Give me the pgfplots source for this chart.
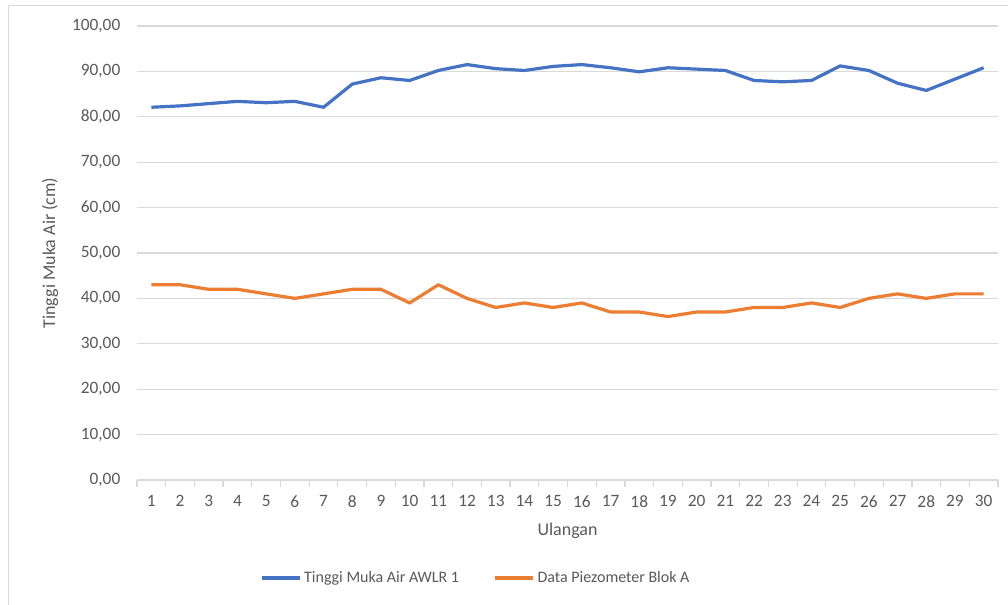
\documentclass[border=0pt]{standalone}
\usepackage{fontspec}
\setmainfont{Carlito}
\usepackage{pgfplots}
\pgfplotsset{compat=1.18}
\definecolor{xlblue}{HTML}{4472C4}
\definecolor{xlorange}{HTML}{ED7D31}
\definecolor{xltext}{HTML}{595959}
\definecolor{xlgrid}{HTML}{D9D9D9}
\begin{document}
\begin{tikzpicture}
\useasboundingbox (-102.75pt,-93.75pt) rectangle (653.25pt,360pt);
\draw[xlgrid, line width=0.75pt] (-96pt,-93.75pt) -- (-96pt,355.5pt) -- (653.25pt,355.5pt);
\begin{axis}[
  scale only axis,
  width=645.75pt, height=340.5pt,
  at={(0pt,0pt)}, anchor=south west,
  xmin=0.5, xmax=30.5,
  ymin=0, ymax=100,
  xtick={1,...,30},
  minor xtick={0.5,1.5,...,30.5},
  ytick={0,10,...,100},
  axis x line*=bottom,
  axis y line*=left,
  y axis line style={draw=none},
  x axis line style={xlgrid, line width=0.9pt},
  ymajorgrids,
  grid style={xlgrid, line width=0.9pt},
  major x tick style={draw=none},
  ytick style={draw=none},
  minor x tick style={xlgrid, line width=0.9pt},
  minor tick length=5pt,
  xtick align=outside,
  tick label style={font=\fontsize{13}{15}\selectfont, text=xltext},
  xticklabel style={yshift=-4pt},
  yticklabel style={xshift=-9pt},
  /pgf/number format/.cd, fixed, fixed zerofill, precision=2, use comma, assume math mode=true,
  /pgfplots/.cd,
  xticklabel={\pgfmathprintnumber[int detect]{\tick}},
  ylabel={Tinggi Muka Air (cm)},
  xlabel={Ulangan},
  label style={font=\fontsize{13.5}{16}\selectfont, text=xltext},
  ylabel style={at={(axis description cs:-0.101,0.5)}, anchor=center},
  xlabel style={at={(axis description cs:0.5,-0.112)}, anchor=center},
  legend style={at={(axis description cs:0.394,-0.216)}, anchor=center, draw=none, fill=none,
    legend columns=2, font=\fontsize{12}{14}\selectfont, text=xltext,
    /tikz/every even column/.append style={column sep=24pt},
    inner sep=0pt},
  legend cell align=left,
  legend image code/.code={\draw[#1] (0pt,0pt) -- (28.5pt,0pt);},
]
\addplot[xlblue, line width=2.4pt, line join=round] coordinates {
(1,82.1) (2,82.4) (3,82.9) (4,83.4) (5,83.1) (6,83.4) (7,82.1) (8,87.2) (9,88.6) (10,88.0)
(11,90.2) (12,91.5) (13,90.6) (14,90.2) (15,91.1) (16,91.5) (17,90.8) (18,89.9) (19,90.8) (20,90.5)
(21,90.2) (22,88.0) (23,87.7) (24,88.0) (25,91.2) (26,90.2) (27,87.4) (28,85.8) (29,88.3) (30,90.8)
};
\addlegendentry{Tinggi Muka Air AWLR 1}
\addplot[xlorange, line width=2.4pt, line join=round] coordinates {
(1,43) (2,43) (3,42) (4,42) (5,41) (6,40) (7,41) (8,42) (9,42) (10,39)
(11,43) (12,40) (13,38) (14,39) (15,38) (16,39) (17,37) (18,37) (19,36) (20,37)
(21,37) (22,38) (23,38) (24,39) (25,38) (26,40) (27,41) (28,40) (29,41) (30,41)
};
\addlegendentry{Data Piezometer Blok A}
\end{axis}
\end{tikzpicture}
\end{document}
